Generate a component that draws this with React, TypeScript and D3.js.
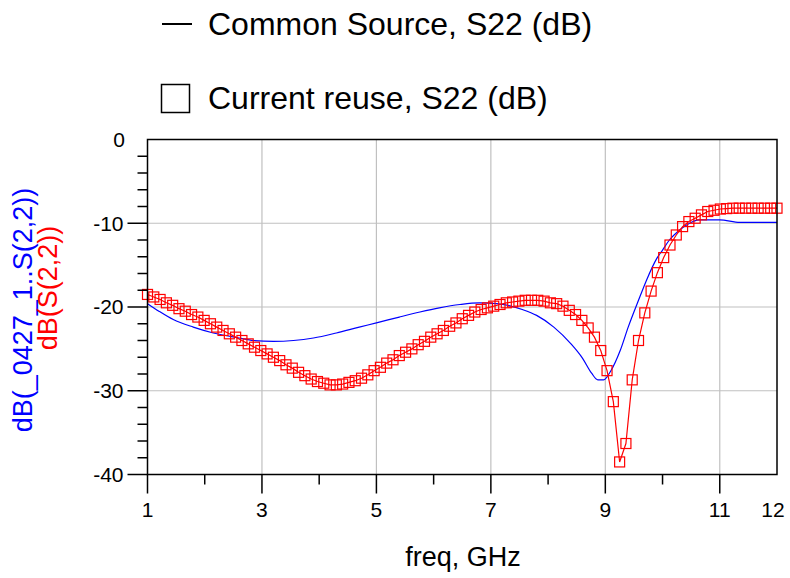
import React from "react";
import * as d3 from "d3";

const xTickValues = [1, 3, 5, 7, 9, 11, 12];
const xMinorTicks = [2, 4, 6, 8, 10];
const xGrid = [3, 5, 7, 9, 11];
const yTickValues = [-10, -20, -30, -40];
const yTickLabels = [0, -10, -20, -30, -40];
const yMinorTicks = [-2, -4, -6, -8, -12, -14, -16, -18, -22, -24, -26, -28, -32, -34, -36, -38];
const yGrid = [-10, -20, -30];

// Common Source S22 (dB), blue line
const commonSourceFreq = [1.0, 1.2, 1.45, 1.8, 2.15, 2.6, 2.85, 3.2, 3.55, 3.9, 4.3, 4.7, 5.0, 5.4, 5.76, 6.1, 6.46, 6.8, 7.1, 7.3, 7.55, 7.8, 8.1, 8.4, 8.6, 8.76, 8.87, 8.97, 9.09, 9.26, 9.4, 9.58, 9.72, 9.9, 10.0, 10.12, 10.3, 10.42, 10.65, 11.0, 11.35, 12.0];
const commonSourceDb = [-19.6, -20.5, -21.5, -22.4, -23.1, -23.7, -24.0, -24.1, -24.0, -23.7, -23.1, -22.4, -21.9, -21.2, -20.6, -20.1, -19.7, -19.5, -19.6, -19.8, -20.3, -21.0, -22.4, -24.4, -26.1, -27.9, -28.7, -28.7, -27.7, -25.2, -22.4, -19.2, -16.8, -14.2, -13.2, -12.0, -10.8, -10.2, -9.6, -9.6, -9.9, -9.9];

// Current reuse S22 (dB), red squares, sweep 1..12 GHz, 101 points
const currentReuseFreq = d3.range(101).map((i) => 1 + i * 0.11);
const currentReuseDb = [
  -18.5, -18.8, -19.1, -19.5, -19.8, -20.2, -20.5, -20.9, -21.2, -21.6,
  -22.0, -22.4, -22.8, -23.2, -23.6, -24.0, -24.4, -24.8, -25.2, -25.6,
  -26.0, -26.4, -26.9, -27.3, -27.8, -28.2, -28.6, -28.9, -29.1, -29.3,
  -29.3, -29.2, -29.0, -28.8, -28.5, -28.1, -27.6, -27.2, -26.7, -26.3,
  -25.8, -25.4, -25.0, -24.5, -24.1, -23.6, -23.2, -22.8, -22.3, -21.9,
  -21.4, -21.0, -20.6, -20.3, -20.1, -19.9, -19.7, -19.5, -19.4, -19.3,
  -19.2, -19.2, -19.2, -19.3, -19.5, -19.6, -19.9, -20.4, -20.9, -21.6,
  -22.5, -23.6, -25.2, -27.6, -31.3, -38.5, -36.3, -28.7, -24.0, -20.7,
  -18.1, -15.9, -14.1, -12.6, -11.4, -10.4, -9.8, -9.4, -9.0, -8.6,
  -8.45, -8.3, -8.25, -8.2, -8.2, -8.2, -8.2, -8.2, -8.2, -8.2, -8.2,
];

const legendLabels = ["Common Source, S22 (dB)", "Current reuse, S22 (dB)"];
const yLabelBlue = "dB(_0427_1..S(2,2))";
const yLabelRed = "dB(S(2,2))";
const xLabel = "freq, GHz";

const W = 790;
const H = 578;
const L = 147.5;
const R = 777;
const T = 139.5;
const B = 474.5;
const FONT = "'Liberation Sans', Arial, sans-serif";

export default function App() {
  const x = d3.scaleLinear().domain([1, 12]).range([L, R]);
  const y = d3.scaleLinear().domain([-40, 0]).range([B, T]);

  const blueLine = d3
    .line<number>()
    .x((_, i) => x(commonSourceFreq[i]))
    .y((d) => y(d))
    .curve(d3.curveMonotoneX)(commonSourceDb) as string;

  const redLine = d3
    .line<number>()
    .x((_, i) => x(currentReuseFreq[i]))
    .y((d) => y(d))(currentReuseDb) as string;

  const ms = 10;

  return (
    <svg
      width={W}
      height={H}
      style={{ position: "absolute", left: 0, top: 0, background: "#fff" }}
      fontFamily={FONT}
    >
      {/* legend */}
      <line x1={162} x2={192} y1={24} y2={24} stroke="#000" strokeWidth={2} />
      <text x={208} y={24} dy="0.35em" fontSize={32} fill="#000">
        {legendLabels[0]}
      </text>
      <rect x={161.5} y={84.5} width={28} height={28} fill="none" stroke="#000" strokeWidth={1.5} />
      <text x={208} y={98} dy="0.35em" fontSize={32} fill="#000">
        {legendLabels[1]}
      </text>

      {/* grid */}
      {xGrid.map((v) => (
        <line key={"gx" + v} x1={x(v)} x2={x(v)} y1={T} y2={B} stroke="#c0c0c0" strokeWidth={1.2} />
      ))}
      {yGrid.map((v) => (
        <line key={"gy" + v} x1={L} x2={R} y1={y(v)} y2={y(v)} stroke="#c0c0c0" strokeWidth={1.2} />
      ))}

      {/* data */}
      <g clipPath="url(#plotclip)">
        <path d={blueLine} fill="none" stroke="#0000ff" strokeWidth={1.2} />
        <path d={redLine} fill="none" stroke="#ff0000" strokeWidth={1.2} />
        {currentReuseDb.map((v, i) => (
          <rect
            key={"m" + i}
            x={x(currentReuseFreq[i]) - ms / 2}
            y={y(v) - ms / 2}
            width={ms}
            height={ms}
            fill="none"
            stroke="#ff0000"
            strokeWidth={1.2}
          />
        ))}
      </g>
      <defs>
        <clipPath id="plotclip">
          <rect x={L - 8} y={T - 8} width={R - L + 16} height={B - T + 16} />
        </clipPath>
      </defs>

      {/* frame */}
      <rect x={L} y={T} width={R - L} height={B - T} fill="none" stroke="#000" strokeWidth={1.5} />

      {/* y ticks */}
      {yTickValues.map((v) => (
        <line key={"yt" + v} x1={L - 20} x2={L} y1={y(v)} y2={y(v)} stroke="#000" strokeWidth={1.5} />
      ))}
      {yMinorTicks.map((v) => (
        <line key={"ym" + v} x1={L - 10} x2={L} y1={y(v)} y2={y(v)} stroke="#000" strokeWidth={1.5} />
      ))}
      {yTickLabels.map((v) => (
        <text key={"yl" + v} x={v === 0 ? 125 : 123.5} y={y(v)} dy="0.35em" textAnchor="end" fontSize={21} fill="#000">
          {v}
        </text>
      ))}

      {/* x ticks */}
      {[1, 3, 5, 7, 9, 11].map((v) => (
        <line key={"xt" + v} x1={x(v)} x2={x(v)} y1={B} y2={B + 19} stroke="#000" strokeWidth={1.5} />
      ))}
      {xMinorTicks.map((v) => (
        <line key={"xm" + v} x1={x(v)} x2={x(v)} y1={B} y2={B + 10} stroke="#000" strokeWidth={1.5} />
      ))}
      {xTickValues.map((v) => (
        <text key={"xl" + v} x={v === 12 ? 773 : x(v)} y={510} dy="0.35em" textAnchor="middle" fontSize={21} fill="#000">
          {v}
        </text>
      ))}

      {/* axis titles */}
      <text x={463} y={557} dy="0.35em" textAnchor="middle" fontSize={27} fill="#000">
        {xLabel}
      </text>
      <text
        transform="translate(23,310) rotate(-90)"
        dy="0.35em"
        textAnchor="middle"
        fontSize={27}
        fill="#0000ff"
      >
        {yLabelBlue}
      </text>
      <text
        transform="translate(48,288) rotate(-90)"
        dy="0.35em"
        textAnchor="middle"
        fontSize={27}
        fill="#ff0000"
      >
        {yLabelRed}
      </text>
    </svg>
  );
}
